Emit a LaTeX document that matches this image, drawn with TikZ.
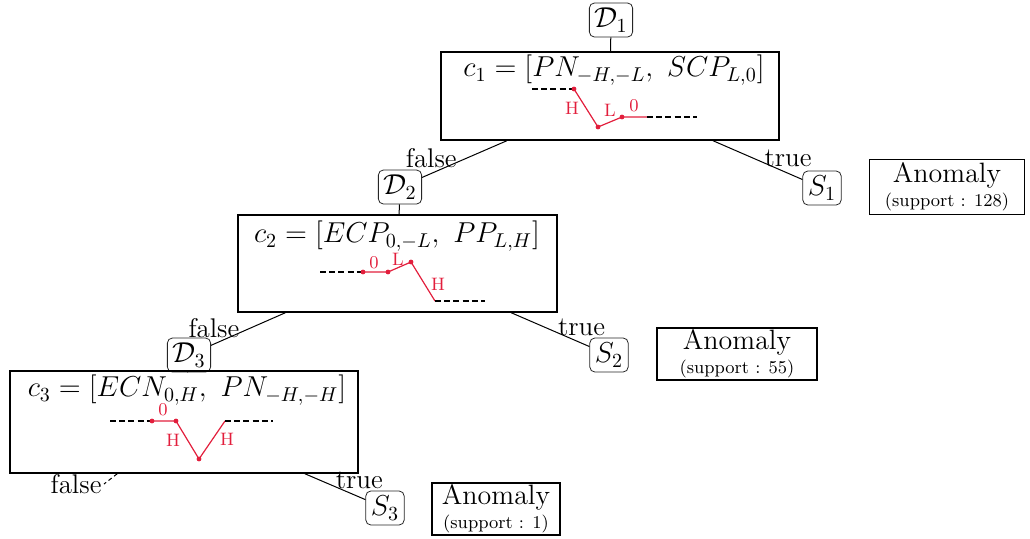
\documentclass[tikz,border=0pt]{standalone}
\usepackage{amsmath}
\usetikzlibrary{positioning}
\definecolor{sketchred}{RGB}{226,30,60}
\tikzset{
  dnode/.style={draw=black!85,rounded corners=2.5pt,inner sep=2.5pt,minimum height=15pt,
                font=\fontsize{14}{16}\selectfont},
  cbox/.style={draw,line width=0.75pt,inner sep=0pt},
  formula/.style={font=\fontsize{14}{16}\selectfont,inner sep=0pt},
  anom/.style={draw,line width=0.65pt,align=center,inner sep=0pt,
               font=\fontsize{14}{13}\selectfont},
  edge/.style={draw,line width=0.5pt},
  lbl/.style={font=\fontsize{13.5}{15}\selectfont,inner sep=0pt},
  sk/.style={sketchred,line width=0.6pt},
  skdash/.style={black,line width=0.6pt,dash pattern=on 3pt off 1.6pt},
  sklbl/.style={text=sketchred,font=\fontsize{9}{10}\selectfont,inner sep=0pt},
}
\newcommand{\supp}[1]{\\[-1pt]{\fontsize{9}{10}\selectfont (support : #1)}}

\begin{document}
\begin{tikzpicture}[x=0.5pt,y=-0.5pt]
  \useasboundingbox (0,0) rectangle (1030,538);

  % level 1
  \node[dnode] (D1) at (611,20) {$\mathcal{D}_1$};
  \node[cbox,minimum width=169pt,minimum height=44pt] (c1) at (610,96) {};
  \node[formula] (f1) at (614,70) {$c_1 = [PN_{-H,-L},\ SCP_{L,0}]$};
  \draw[skdash] (532,89) -- (574,89);
  \draw[sk] (574,89) -- (598,127) -- (622,117) -- (647,117);
  \draw[skdash] (647,117) -- (697,117);
  \foreach \p in {(574,89),(598,127),(622,117)} \fill[sketchred] \p circle (1.2pt);
  \node[sklbl] (h1) at (572,108) {H};
  \node[sklbl] (l1) at (610,110) {L};
  \node[sklbl] (z1) at (634,106) {0};

  \node[dnode] (D2) at (400,187) {$\mathcal{D}_2$};
  \node[dnode] (S1) at (822,188) {$S_1$};
  \node[anom,minimum width=77.5pt,minimum height=27.5pt] (A1) at (947,187) {Anomaly\supp{128}};

  % level 2
  \node[cbox,minimum width=159.5pt,minimum height=48.5pt] (c2) at (397.5,263.5) {};
  \node[formula] (f2) at (397,236) {$c_2 = [ECP_{0,-L},\ PP_{L,H}]$};
  \draw[skdash] (320,272) -- (363,272);
  \draw[sk] (363,272) -- (388,272) -- (411,262) -- (435,301);
  \draw[skdash] (435,301) -- (485,301);
  \foreach \p in {(363,272),(388,272),(411,262)} \fill[sketchred] \p circle (1.2pt);
  \node[sklbl] (z2) at (374,263) {0};
  \node[sklbl] (l2) at (398,259) {L};
  \node[sklbl] (h2) at (438,284) {H};

  \node[dnode] (D3) at (189,355) {$\mathcal{D}_3$};
  \node[dnode] (S2) at (609,355) {$S_2$};
  \node[anom,minimum width=80pt,minimum height=26pt] (A2) at (737,354) {Anomaly\supp{55}};

  % level 3
  \node[cbox,minimum width=174pt,minimum height=51pt] (c3) at (184,422) {};
  \node[formula] (f3) at (187,390) {$c_3 = [ECN_{0,H},\ PN_{-H,-H}]$};
  \draw[skdash] (110,421) -- (152,421);
  \draw[sk] (152,421) -- (176,421) -- (199,459) -- (225,421);
  \draw[skdash] (225,421) -- (273,421);
  \foreach \p in {(152,421),(176,421),(199,459)} \fill[sketchred] \p circle (1.2pt);
  \node[sklbl] (z3) at (163,410) {0};
  \node[sklbl] (h3) at (173,440) {H};
  \node[sklbl] (h4) at (227,439) {H};

  \node[dnode] (S3) at (385,508) {$S_3$};
  \node[anom,minimum width=64pt,minimum height=26pt] (A3) at (496,509) {Anomaly\supp{1}};
  \coordinate (c3f) at (104,484);

  % connectors
  \draw[edge] (D1) -- (c1);
  \draw[edge] (c1) -- node[lbl,pos=0.89,above=2.75pt]{false} (D2);
  \draw[edge] (c1) -- node[lbl,pos=0.84,above=3pt]{true} (S1);
  \draw[edge] (D2) -- (c2);
  \draw[edge] (c2) -- node[lbl,pos=0.96,above=2.8pt]{false} (D3);
  \draw[edge] (c2) -- node[lbl,pos=0.9,above=3.5pt]{true} (S2);
  \draw[edge] (D3) -- (c3);
  \draw[edge,dash pattern=on 2pt off 1.5pt] (c3) -- (c3f) node[lbl,left=1pt]{false};
  \draw[edge] (c3) -- node[lbl,pos=0.9,above=4pt]{true} (S3);
\end{tikzpicture}
\end{document}
